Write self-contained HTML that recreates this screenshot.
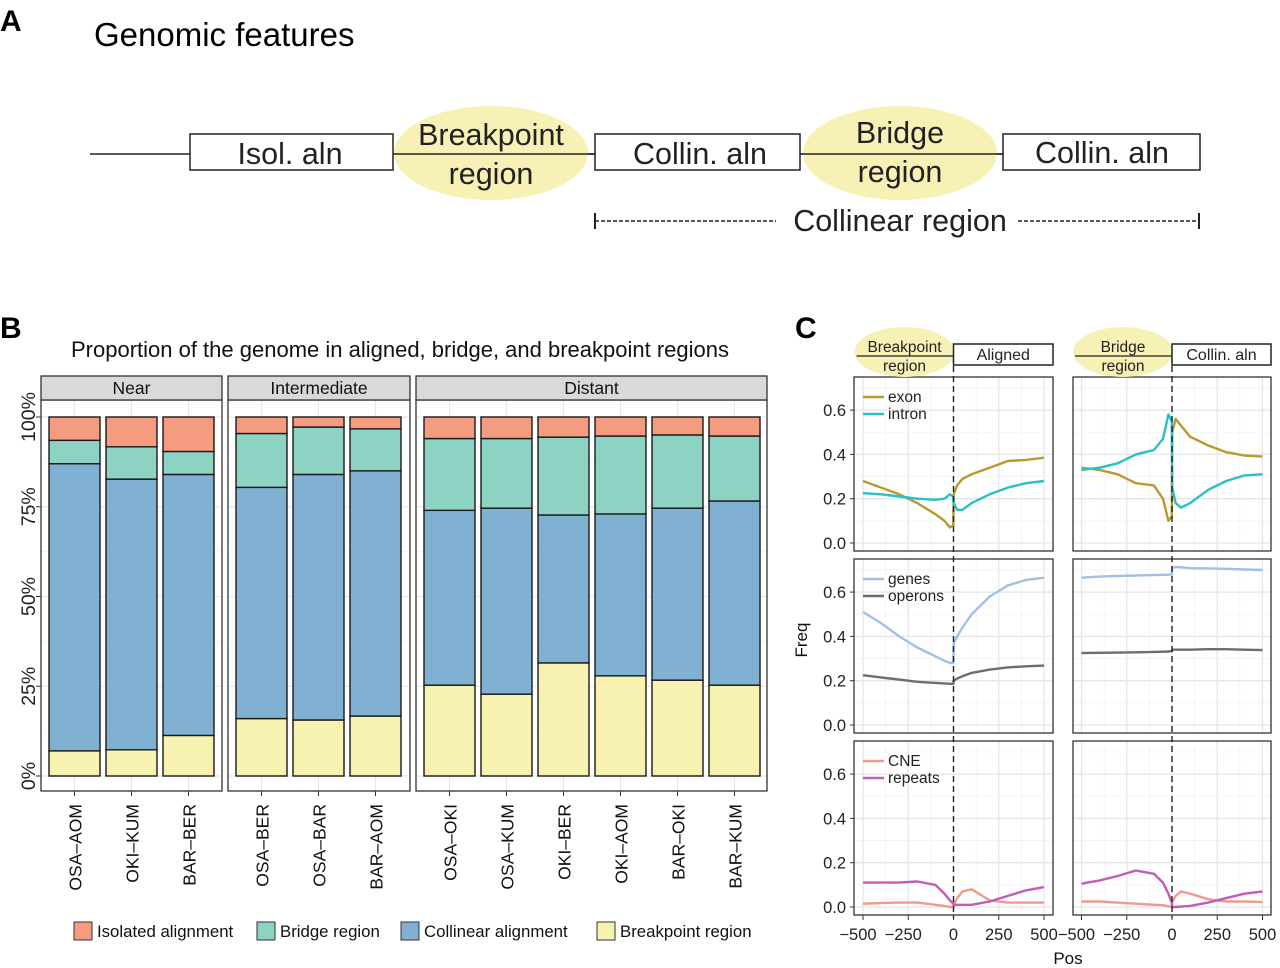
<!DOCTYPE html>
<html><head><meta charset="utf-8"><style>
body{margin:0;background:#fff}
svg{display:block;font-family:"Liberation Sans",Arial,sans-serif}
</style></head><body>
<svg id="s" width="1280" height="968" viewBox="0 0 1280 968">
<g>
<text x="0" y="31" font-size="30" font-weight="bold">A</text>
<text x="94" y="46" font-size="33">Genomic features</text>
<line x1="90" y1="154" x2="1200" y2="154" stroke="#222" stroke-width="1.5"/>
<ellipse cx="491" cy="153" rx="97" ry="47" fill="#f8f1b6"/>
<ellipse cx="900" cy="153" rx="97" ry="47" fill="#f8f1b6"/>
<line x1="394" y1="154" x2="595" y2="154" stroke="#222" stroke-width="1.5"/>
<line x1="800" y1="154" x2="1003" y2="154" stroke="#222" stroke-width="1.5"/>
<rect x="190" y="134" width="203" height="36" fill="#fff" stroke="#222" stroke-width="1.5"/>
<rect x="595" y="134" width="205" height="36" fill="#fff" stroke="#222" stroke-width="1.5"/>
<rect x="1003" y="134" width="197" height="36" fill="#fff" stroke="#222" stroke-width="1.5"/>
<g font-size="30.5" text-anchor="middle" fill="#222">
<text x="290" y="164">Isol. aln</text>
<text x="491" y="145">Breakpoint</text><text x="491" y="184">region</text>
<text x="700" y="164">Collin. aln</text>
<text x="900" y="143">Bridge</text><text x="900" y="182">region</text>
<text x="1102" y="163">Collin. aln</text>
<text x="900" y="231">Collinear region</text>
</g>
<line x1="595" y1="221" x2="776" y2="221" stroke="#222" stroke-width="1.5" stroke-dasharray="4,2"/>
<line x1="1018" y1="221" x2="1199" y2="221" stroke="#222" stroke-width="1.5" stroke-dasharray="4,2"/>
<line x1="595" y1="213" x2="595" y2="229" stroke="#222" stroke-width="2"/>
<line x1="1199" y1="213" x2="1199" y2="229" stroke="#222" stroke-width="2"/>
</g>
<text x="0" y="338" font-size="30" font-weight="bold">B</text>
<text x="400" y="357" font-size="22" text-anchor="middle" fill="#111">Proportion of the genome in aligned, bridge, and breakpoint regions</text>
<text x="795" y="338" font-size="30" font-weight="bold">C</text>
<g id="gb"></g><g id="gc"></g>
</svg>
<script>
// ---- Panel B data ----
const groups = ["Near","Intermediate","Distant"];
const pairs = [["OSA–AOM","OKI–KUM","BAR–BER"],["OSA–BER","OSA–BAR","BAR–AOM"],["OSA–OKI","OSA–KUM","OKI–BER","OKI–AOM","BAR–OKI","BAR–KUM"]];
const breakpoint = [7,7.3,11.3,16,15.6,16.7,25.3,22.8,31.5,27.9,26.7,25.3];
const collinear = [80,75.4,72.7,64.4,68.4,68.3,48.7,51.8,41.2,45.1,47.9,51.3];
const bridge = [6.5,9,6.4,15,13.2,11.7,20,19.4,21.7,21.7,20.4,18.1];
const isolated = [6.5,8.3,9.6,4.6,2.8,3.3,6,6,5.6,5.3,5,5.3];
const yTicks = ["0%","25%","50%","75%","100%"];
const legendLabels = ["Isolated alignment","Bridge region","Collinear alignment","Breakpoint region"];
const colors = ["#f59b80","#8dd3c3","#80b1d3","#f8f2b0"];

const NS="http://www.w3.org/2000/svg";
function mk(tag,attrs,parent,text){const e=document.createElementNS(NS,tag);for(const k in attrs)e.setAttribute(k,attrs[k]);if(text!==undefined)e.textContent=text;parent.appendChild(e);return e;}
const gb=document.getElementById('gb');
const yB=v=>776-v*3.59;
const panels=[[41,222],[228,410],[416,767]];
let idx=0;
groups.forEach((g,gi)=>{
  const [x0,x1]=panels[gi];
  const p=mk('g',{},gb);
  
  
  mk('rect',{x:x0,y:400,width:x1-x0,height:391,fill:'#fff'},p);
  for(let t=0;t<=100;t+=12.5){mk('line',{x1:x0,x2:x1,y1:yB(t),y2:yB(t),stroke:t%25?'#f3f3f3':'#e8e8e8','stroke-width':t%25?0.8:1.2},p);}
  pairs[gi].forEach((n,j)=>{
    const bx=x0+8+j*57, cx=bx+25.5;
    mk('line',{x1:cx,x2:cx,y1:400,y2:791,stroke:'#e8e8e8','stroke-width':1.2},p);
  });
  const vals=[breakpoint,collinear,bridge,isolated];
  pairs[gi].forEach((n,j)=>{
    const bx=x0+8+j*57;let cum=0;
    [3,2,1,0].forEach((ci,k)=>{
      const v=vals[k][idx];
      const r=mk('rect',{x:bx,y:yB(cum+v),width:51,height:v*3.59,fill:colors[ci],stroke:'#1a1a1a','stroke-width':1.4},p);
      
      
      cum+=v;
    });
    const cx=bx+25.5;
    mk('line',{x1:cx,x2:cx,y1:791,y2:796,stroke:'#333'},p);
    const t=mk('text',{x:0,y:0,transform:`translate(${cx+7},804) rotate(-90)`,'font-size':17.5,'text-anchor':'end',fill:'#111'},p,n);
    
    
    idx++;
  });
  mk('rect',{x:x0,y:400,width:x1-x0,height:391,fill:'none',stroke:'#333','stroke-width':1.3},p);
  mk('rect',{x:x0,y:376,width:x1-x0,height:24,fill:'#d9d9d9',stroke:'#333','stroke-width':1.3},p);
  const st=mk('text',{x:(x0+x1)/2,y:394,'font-size':17.5,'text-anchor':'middle',fill:'#111'},p,g);
  
  
});
yTicks.forEach((t,i)=>{
  const y=yB(i*25);
  mk('line',{x1:36,x2:41,y1:y,y2:y,stroke:'#333'},gb);
  const e=mk('text',{transform:`translate(${35},${y}) rotate(-90)`,'font-size':19.5,'text-anchor':'middle',fill:'#222'},gb,t);
  
  
});
const lx=[74,257,401,597];
legendLabels.forEach((l,i)=>{
  const g=mk('g',{},gb);
  
  
  mk('rect',{x:lx[i],y:922,width:18,height:18,fill:colors[i],stroke:'#333','stroke-width':1},g);
  mk('text',{x:lx[i]+23,y:937,'font-size':16.8,fill:'#111'},g,l);
});

// ---- Panel C data ----
const pos = [-500,-400,-300,-200,-100,-50,-20,-1,1,20,50,100,200,300,400,500];
const exonL = [0.28,0.25,0.22,0.18,0.13,0.10,0.07,0.08,0.22,0.26,0.29,0.31,0.34,0.37,0.375,0.385];
const intronL = [0.225,0.22,0.21,0.20,0.195,0.20,0.22,0.21,0.18,0.15,0.15,0.18,0.22,0.25,0.27,0.28];
const exonR = [0.34,0.33,0.31,0.27,0.26,0.20,0.10,0.12,0.50,0.56,0.53,0.48,0.44,0.41,0.395,0.39];
const intronR = [0.33,0.34,0.36,0.40,0.42,0.47,0.58,0.55,0.25,0.18,0.16,0.18,0.24,0.28,0.305,0.31];
const genesL = [0.51,0.46,0.40,0.35,0.31,0.29,0.28,0.28,0.37,0.40,0.44,0.50,0.58,0.63,0.655,0.665];
const operonsL = [0.225,0.215,0.205,0.195,0.19,0.188,0.186,0.186,0.20,0.21,0.22,0.235,0.25,0.26,0.265,0.268];
const genesR = [0.665,0.67,0.673,0.675,0.677,0.678,0.678,0.68,0.71,0.713,0.712,0.708,0.707,0.705,0.702,0.70];
const operonsR = [0.325,0.326,0.327,0.328,0.33,0.331,0.332,0.333,0.34,0.34,0.34,0.34,0.342,0.342,0.34,0.338];
const cneL = [0.015,0.018,0.02,0.02,0.01,0.005,0.0,0.0,0.01,0.04,0.07,0.08,0.03,0.02,0.02,0.02];
const repeatsL = [0.11,0.11,0.11,0.115,0.10,0.06,0.03,0.015,0.01,0.01,0.01,0.01,0.025,0.05,0.075,0.09];
const cneR = [0.025,0.025,0.02,0.015,0.01,0.008,0.003,0.0,0.02,0.05,0.07,0.06,0.035,0.025,0.025,0.022];
const repeatsR = [0.105,0.12,0.14,0.165,0.15,0.11,0.06,0.02,0.0,0.0,0.002,0.005,0.02,0.04,0.06,0.07];
const xTicks = [-500,-250,0,250,500];
const yTicksC = [0,0.2,0.4,0.6];

const gc=document.getElementById('gc');
const cols=[{x0:854,x1:1053,c:953.5},{x0:1073,x1:1271,c:1172}];
const rows=[377,559,741];
const rowSeries=[
 [[exonL,intronL],[exonR,intronR],["exon","intron"],["#b89a30","#2bbfc6"]],
 [[genesL,operonsL],[genesR,operonsR],["genes","operons"],["#a2c0e3","#6e6e6e"]],
 [[cneL,repeatsL],[cneR,repeatsR],["CNE","repeats"],["#f29a8a","#c35bb8"]]
];
rows.forEach((top,ri)=>{
  const yC=v=>top+166-v*221.5;
  cols.forEach((col,ci)=>{
    const xC=v=>col.c+v*0.181;
    const p=mk('g',{},gc);
    
    
    for(let v=-500;v<=500;v+=125) mk('line',{x1:xC(v),x2:xC(v),y1:top,y2:top+174,stroke:v%250?'#f3f3f3':'#e6e6e6','stroke-width':v%250?0.8:1.3},p);
    for(let v=0;v<=0.71;v+=0.1) mk('line',{x1:col.x0,x2:col.x1,y1:yC(v),y2:yC(v),stroke:Math.round(v*10)%2?'#f3f3f3':'#e6e6e6','stroke-width':Math.round(v*10)%2?0.8:1.3},p);
    const ser=rowSeries[ri][ci];
    ser.forEach((arr,si)=>{
      const d=arr.map((v,i)=>(i?'L':'M')+xC(pos[i]).toFixed(1)+','+yC(v).toFixed(1)).join('');
      const l=mk('path',{d:d,fill:'none',stroke:rowSeries[ri][3][si],'stroke-width':2.4,'stroke-linejoin':'round'},p);
      
      
    });
    mk('rect',{x:col.x0,y:top,width:col.x1-col.x0,height:174,fill:'none',stroke:'#333','stroke-width':1.3},p);
    if(ci===0){
      yTicksC.forEach(v=>{
        mk('line',{x1:col.x0-4,x2:col.x0,y1:yC(v),y2:yC(v),stroke:'#333'},p);
        const t=mk('text',{x:col.x0-8,y:yC(v)+6,'font-size':16.5,'text-anchor':'end',fill:'#222'},p,v.toFixed(1));
        
        
      });
      rowSeries[ri][2].forEach((n,si)=>{
        const ly=top+20+si*17;
        mk('line',{x1:863,x2:884,y1:ly,y2:ly,stroke:rowSeries[ri][3][si],'stroke-width':2.6},p);
        const t=mk('text',{x:888,y:ly+5,'font-size':15.5,fill:'#222'},p,n);
        
        
      });
    }
    if(ri===2){
      xTicks.forEach(v=>{
        mk('line',{x1:xC(v),x2:xC(v),y1:top+174,y2:top+179,stroke:'#333'},p);
        const t=mk('text',{x:xC(v)-(v<0?5:0),y:940,'font-size':16.5,'text-anchor':'middle',fill:'#222'},p,v<0?'−'+(-v):String(v));
        
        
      });
    }
  });
});
cols.forEach((col,ci)=>{
  mk('line',{x1:col.c,x2:col.c,y1:356,y2:918,stroke:'#222','stroke-width':1.4,'stroke-dasharray':'6,4'},gc);
  mk('ellipse',{cx:col.c-49,cy:352,rx:50,ry:25,fill:'#f8f1b6'},gc);
  mk('line',{x1:col.c-97,x2:col.c,y1:356,y2:356,stroke:'#222','stroke-width':1.3},gc);
  const b=mk('rect',{x:col.c,y:344,width:col.x1-col.c,height:21,fill:'#fff',stroke:'#222','stroke-width':1.5},gc);
  
  
  mk('text',{x:col.c-49,y:352,'font-size':15.5,'text-anchor':'middle',fill:'#222'},gc,ci?'Bridge':'Breakpoint');
  mk('text',{x:col.c-49,y:371,'font-size':15.5,'text-anchor':'middle',fill:'#222'},gc,'region');
  mk('text',{x:(col.c+col.x1)/2,y:360,'font-size':16,'text-anchor':'middle',fill:'#222'},gc,ci?'Collin. aln':'Aligned');
});
const fq=mk('text',{transform:'translate(807,640) rotate(-90)','font-size':17,'text-anchor':'middle',fill:'#111'},gc,'Freq');


const px=mk('text',{x:1068,y:964,'font-size':17,'text-anchor':'middle',fill:'#111'},gc,'Pos');


</script>
</body></html>
